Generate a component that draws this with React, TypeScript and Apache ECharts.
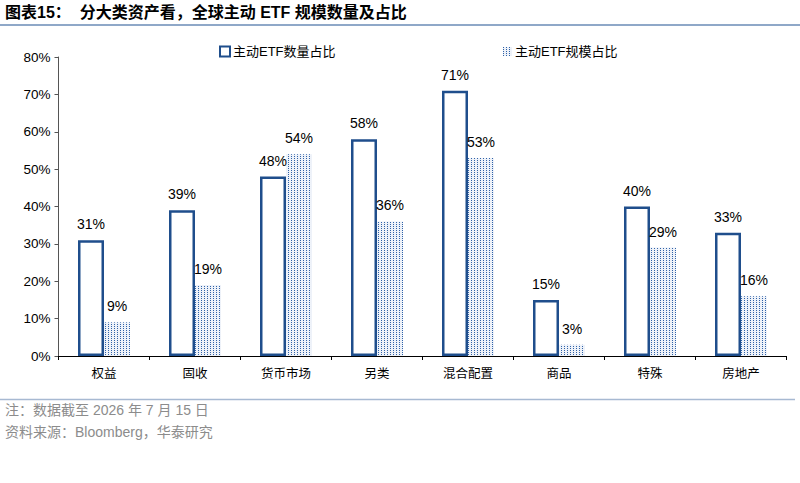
import React, { useEffect, useRef } from "react";
import * as echarts from "echarts";

const categories = ["权益", "固收", "货币市场", "另类", "混合配置", "商品", "特殊", "房地产"];
const countShare = [31, 39, 48, 58, 71, 15, 40, 33];
const scaleShare = [9, 19, 54, 36, 53, 3, 29, 16];
const yTicks = [0, 10, 20, 30, 40, 50, 60, 70, 80];

const FONT = '"Liberation Sans", Arial, "Noto Sans CJK SC", sans-serif';
const BLUE = "#1f4e8c";

export default function App() {
  const ref = useRef<HTMLDivElement>(null);
  useEffect(() => {
    if (!ref.current) return;
    const chart = echarts.init(ref.current, undefined, { renderer: "svg" });
    chart.setOption({
      animation: false,
      backgroundColor: "#ffffff",
      textStyle: { fontFamily: FONT },
      grid: { left: 58.5, right: 13.5, top: 57, bottom: 127 },
      legend: [
        {
          data: ["主动ETF数量占比"],
          left: 214,
          top: 40,
          itemWidth: 10,
          itemHeight: 10,
          itemGap: 4,
          icon: "rect",
          textStyle: { fontSize: 13, color: "#000", fontFamily: FONT, padding: [0, 0, 0, -2] },
        },
        {
          data: ["主动ETF规模占比"],
          left: 498,
          top: 40,
          itemWidth: 9,
          itemHeight: 9,
          icon: "rect",
          textStyle: { fontSize: 13, color: "#000", fontFamily: FONT, padding: [0, 0, 0, -2] },
        },
      ],
      xAxis: {
        type: "category",
        data: categories,
        axisLine: { lineStyle: { color: "#000", width: 1 } },
        axisTick: { show: true, length: 4, inside: false, lineStyle: { color: "#000" } },
        axisLabel: { fontSize: 12.5, color: "#000", margin: 12, fontFamily: FONT },
      },
      yAxis: {
        type: "value",
        min: 0,
        max: 80,
        interval: 10,
        axisLine: { show: true, lineStyle: { color: "#555", width: 1 } },
        axisTick: { show: true, length: 4, lineStyle: { color: "#555" } },
        splitLine: { show: false },
        axisLabel: {
          fontSize: 13.5,
          color: "#000",
          margin: 8,
          fontFamily: FONT,
          formatter: (v: number) => (yTicks.includes(v) ? v + "%" : ""),
        },
      },
      series: [
        {
          name: "主动ETF数量占比",
          type: "bar",
          data: countShare,
          barWidth: 26,
          barGap: "0%",
          itemStyle: { color: "#ffffff", borderColor: BLUE, borderWidth: 2.5 },
          label: {
            show: true,
            position: "top",
            distance: 9,
            fontSize: 14,
            color: "#000",
            fontFamily: FONT,
            formatter: (p: any) => p.value + "%",
          },
        },
        {
          name: "主动ETF规模占比",
          type: "bar",
          data: scaleShare,
          barWidth: 26,
          barGap: "0%",
          itemStyle: {
            color: "#eef2f9",
            decal: {
              symbol: "rect",
              symbolSize: 1,
              color: "#2f62a8",
              dashArrayX: [1, 2],
              dashArrayY: [1, 1],
              rotation: 0,
            },
          },
          label: {
            show: true,
            position: "top",
            distance: 9,
            fontSize: 14,
            color: "#000",
            fontFamily: FONT,
            formatter: (p: any) => p.value + "%",
          },
        },
      ],
      graphic: [
        {
          type: "text",
          left: 5,
          top: 4,
          style: {
            text: "图表15：  分大类资产看，全球主动 ETF 规模数量及占比",
            fontSize: 16,
            fontWeight: "bold",
            fill: "#000",
            fontFamily: FONT,
          },
        },
        {
          type: "line",
          shape: { x1: 0, y1: 25, x2: 800, y2: 25 },
          style: { stroke: "#8fa8c8", lineWidth: 2 },
        },
        {
          type: "line",
          shape: { x1: 0, y1: 399.5, x2: 795, y2: 399.5 },
          style: { stroke: "#a7b9d2", lineWidth: 1.5 },
        },
        {
          type: "text",
          left: 5,
          top: 403,
          style: {
            text: "注：数据截至 2026 年 7 月 15 日",
            fontSize: 14,
            fill: "#8c8c8c",
            fontFamily: FONT,
          },
        },
        {
          type: "text",
          left: 5,
          top: 425,
          style: {
            text: "资料来源：Bloomberg，华泰研究",
            fontSize: 14,
            fill: "#8c8c8c",
            fontFamily: FONT,
          },
        },
      ],
    });
    return () => chart.dispose();
  }, []);
  return <div ref={ref} style={{ width: 800, height: 483, position: "absolute", left: 0, top: 0 }} />;
}
